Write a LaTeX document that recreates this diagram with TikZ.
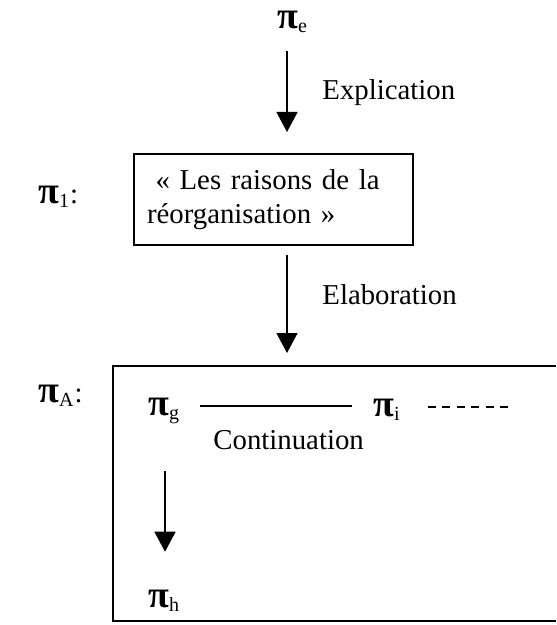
\documentclass[tikz,border=0pt]{standalone}
\usepackage{fontspec}
\setmainfont{Liberation Serif}
\newcommand{\PI}[1]{{\bfseries\fontsize{19}{19}\selectfont π}\textsubscript{#1}}
\usetikzlibrary{arrows.meta,calc}
\begin{document}
\begin{tikzpicture}[x=0.5pt,y=-0.5pt,
  every node/.style={font=\fontsize{14.4}{17}\selectfont, inner sep=0pt},
  arr/.style={line width=0.75pt,-{Triangle[width=10.5pt,length=10pt]}},
  frame/.style={line width=1pt},
  lbl/.style={anchor=west}]
\useasboundingbox (0,0) rectangle (556,625);
% top
\node (pe) [lbl] at (277,22) {\PI{e}};
\node[lbl] (expl) at (322,93) {Explication};
% box 1
\node (p1) [lbl] at (38,197) {\PI{1}:};
\node[draw, frame, minimum width=139.5pt, minimum height=45.5pt,
      text width=126.5pt, align=left, inner xsep=6.5pt] (b1) at (273.5,199.5)
      {\hspace{0.3em}« Les raisons de la\\réorganisation »};
\coordinate (a1x) at (287,0);
\draw[arr, shorten <=9pt, shorten >=10.5pt] (pe.south -| a1x) -- (b1.north -| a1x);
% elaboration
\node[lbl] (elab) at (322,295) {Elaboration};
\coordinate (b2top) at (287,366);
\draw[arr, shorten <=4.5pt, shorten >=6.5pt] (b1.south -| b2top) -- (b2top);
% box 2
\draw[frame] (556,366) -- (113,366) -- (113,621) -- (556,621);
\node (pA) [lbl] at (38,396) {\PI{A}:};
\node (pg) [lbl] at (148,411) {\PI{g}};
\node (pi) [lbl] at (373,410) {\PI{i}};
\node (cont) [lbl] at (213,440) {Continuation};
\node (ph) [lbl] at (148,601) {\PI{h}};
\coordinate (dend) at (508,407);
\draw[line width=0.75pt] ($(pg.west)+(52,-5)$) -- ($(pi.west)+(-21,-4)$);
\draw[line width=0.75pt, dash pattern=on 4pt off 3.2pt] ($(pi.west)+(55,-3)$) -- (dend);
\coordinate (a3x) at (165,0);
\draw[arr, shorten <=23.5pt, shorten >=19pt] (pg.south -| a3x) -- (ph.north -| a3x);
\end{tikzpicture}
\end{document}
